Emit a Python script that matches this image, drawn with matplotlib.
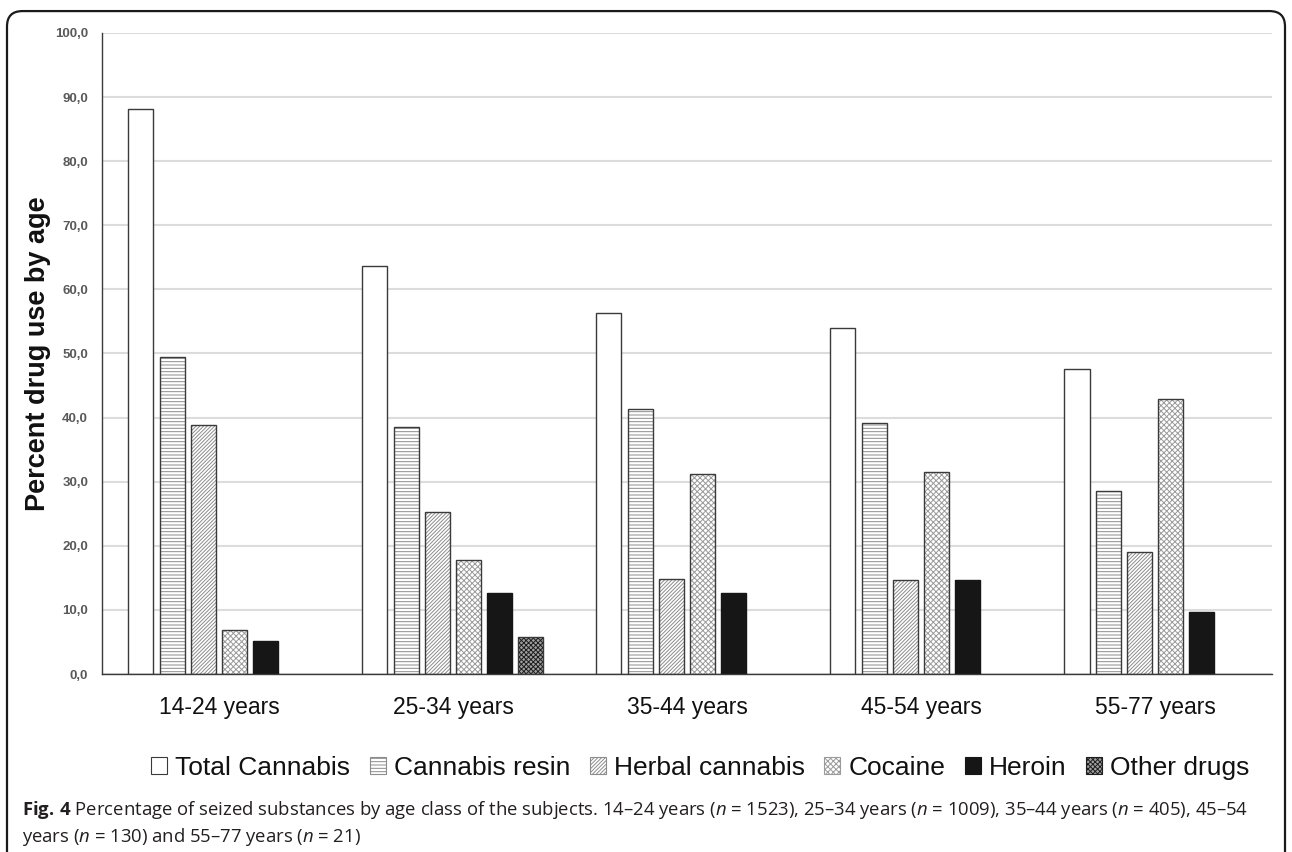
import matplotlib.pyplot as plt
import numpy as np
from matplotlib.patches import FancyBboxPatch, Patch

# ---------------------------
# Data: percent of seized substances by age class
# ---------------------------
age_classes = ["14-24 years", "25-34 years", "35-44 years", "45-54 years", "55-77 years"]
total_cannabis = [88.1, 63.7, 56.3, 53.9, 47.6]
cannabis_resin = [49.4, 38.6, 41.4, 39.2, 28.5]
herbal_cannabis = [38.9, 25.2, 14.8, 14.6, 19.1]
cocaine = [6.9, 17.8, 31.2, 31.5, 42.9]
heroin = [5.1, 12.7, 12.6, 14.6, 9.6]
other_drugs = [0.0, 5.7, 0.0, 0.0, 0.0]
y_ticks = np.arange(0, 101, 10)

series = [
    ("Total Cannabis", total_cannabis, "white", "", "#3a3a3a"),
    ("Cannabis resin", cannabis_resin, "white", "-----", "#8c8c8c"),
    ("Herbal cannabis", herbal_cannabis, "white", "/////////", "#8c8c8c"),
    ("Cocaine", cocaine, "white", "xxxxxx", "#9a9a9a"),
    ("Heroin", heroin, "#161616", "", "#161616"),
    ("Other drugs", other_drugs, "#a0a0a0", "xxxxxxx", "#1e1e1e"),
]

plt.rcParams["font.family"] = ["Liberation Sans", "DejaVu Sans"]
plt.rcParams["hatch.linewidth"] = 0.7
plt.rcParams["mathtext.fontset"] = "custom"
plt.rcParams["mathtext.rm"] = "Open Sans"
plt.rcParams["mathtext.it"] = "Open Sans:italic"
plt.rcParams["mathtext.bf"] = "Open Sans:bold"

fig = plt.figure(figsize=(12.92, 8.52), dpi=100)
ax = fig.add_axes([0.0789, 0.2089, 0.9056, 0.7524])

x = np.arange(len(age_classes))
pitch = 0.1333
width = 0.107
handles = []
for j, (name, vals, face, hatch, hcol) in enumerate(series):
    pos = x + (j - 2.5) * pitch
    # hatched fill first, then a dark outline on top (none for empty bars)
    ax.bar(pos, vals, width, color=face, hatch=hatch, edgecolor=hcol,
           linewidth=0, zorder=2)
    edge = "#161616" if name == "Heroin" else "#3a3a3a"
    edges = [edge if v > 0 else "none" for v in vals]
    ax.bar(pos, vals, width, fill=False, edgecolor=edges, linewidth=1.0, zorder=3)
    handles.append(Patch(facecolor=face, hatch=hatch, edgecolor=hcol,
                         linewidth=0.8, label=name))

ax.set_xlim(-0.5, len(age_classes) - 0.5)
ax.set_ylim(0, 100)
ax.set_yticks(y_ticks)
ax.set_yticklabels([f"{v:.1f}".replace(".", ",") for v in y_ticks],
                   fontsize=9.5, fontweight="bold", color="#595959")
ax.set_xticks(x)
ax.set_xticklabels(age_classes, fontsize=16.5, color="#111111")
ax.tick_params(axis="y", length=0, pad=10)
ax.tick_params(axis="x", length=0, pad=16)
ax.yaxis.grid(True, color="#dcdcdc", linewidth=1.5, zorder=0)
ax.set_axisbelow(True)
for side in ["top", "right"]:
    ax.spines[side].set_visible(False)
ax.spines["left"].set_color("#3a3a3a")
ax.spines["bottom"].set_color("#3a3a3a")
ax.spines["left"].set_linewidth(1.0)
ax.spines["bottom"].set_linewidth(1.0)
ax.set_ylabel("Percent drug use by age", fontsize=19.5, fontweight="bold",
              color="#111111", labelpad=3)

fig.legend(handles=handles, loc="center", bbox_to_anchor=(0.542, 0.099),
           ncol=6, frameon=False, fontsize=19, handlelength=0.6,
           handleheight=0.6, handletextpad=0.3, columnspacing=0.75,
           labelcolor="#111111")

# caption below the chart
fig.text(0.017, 0.049,
         r"$\mathbf{Fig.\,4}$ Percentage of seized substances by age class of the subjects. "
         r"14–24 years ($n$ = 1523), 25–34 years ($n$ = 1009), 35–44 years ($n$ = 405), 45–54",
         fontsize=13.3, family="Open Sans", color="#231f20", va="center")
fig.text(0.017, 0.018, r"years ($n$ = 130) and 55–77 years ($n$ = 21)",
         fontsize=13.3, family="Open Sans", color="#231f20", va="center")

# rounded frame around chart and caption
frame = FancyBboxPatch((7 / 1292, -0.05), 1278 / 1292, 1.037,
                       boxstyle="round,pad=0,rounding_size=0.012",
                       transform=fig.transFigure, fill=False,
                       edgecolor="#1a1a1a", linewidth=1.6, mutation_aspect=1.5)
fig.patches.append(frame)

fig.savefig("out.png", dpi=100)
